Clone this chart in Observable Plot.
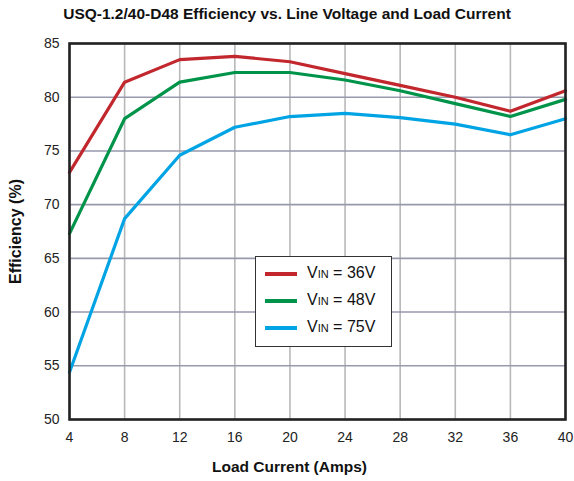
<!DOCTYPE html>
<html><head><meta charset="utf-8">
<script src="https://cdn.jsdelivr.net/npm/d3@7"></script>
<script src="https://cdn.jsdelivr.net/npm/@observablehq/plot@0.6"></script>
<style>
body{margin:0;background:#fff;font-family:"Liberation Sans",Arial,sans-serif;}
#wrap{position:relative;width:574px;height:481px;}
#title{height:28px;line-height:28px;text-align:center;font-weight:bold;font-size:15.5px;color:#111;}
#legend{position:absolute;left:255px;top:256px;width:137px;height:91px;border:1.3px solid #333;background:#fff;box-sizing:border-box;}
.li{position:absolute;left:9px;height:20px;font-size:16px;color:#111;}
.li span.sw{position:absolute;left:0;top:8px;width:32px;height:4px;}
.li span.tx{position:absolute;left:42px;top:0;white-space:nowrap;}
.li small{font-size:11px;}
</style></head><body>
<div id="wrap"><div id="title">USQ-1.2/40-D48 Efficiency vs. Line Voltage and Load Current</div><div id="chart"></div><div id="legend"></div></div>
<script>
const current = [4, 8, 12, 16, 20, 24, 28, 32, 36, 40];
const vin36 = [73.0, 81.4, 83.5, 83.8, 83.3, 82.2, 81.1, 80.0, 78.7, 80.6];
const vin48 = [67.3, 78.0, 81.4, 82.3, 82.3, 81.6, 80.6, 79.4, 78.2, 79.8];
const vin75 = [54.4, 68.7, 74.6, 77.2, 78.2, 78.5, 78.1, 77.5, 76.5, 78.0];
const seriesNames = ["36V", "48V", "75V"];
const seriesColors = ["#c1272d", "#00944a", "#00a4e4"];
const xTicks = [4, 8, 12, 16, 20, 24, 28, 32, 36, 40];
const yTicks = [50, 55, 60, 65, 70, 75, 80, 85];

const allSeries = [vin36, vin48, vin75];
const data = [];
allSeries.forEach((vals, si) => vals.forEach((v, i) => data.push({x: current[i], y: v, s: seriesNames[si]})));

const chart = Plot.plot({
  width: 574, height: 453,
  marginTop: 15, marginBottom: 62, marginLeft: 69, marginRight: 9,
  style: {fontFamily: "'Liberation Sans', Arial, sans-serif", fontSize: "14px", color: "#222", background: "#fff"},
  x: {domain: [4, 40], ticks: xTicks, tickSize: 0, tickPadding: 13, label: "Load Current (Amps)", labelAnchor: "center", labelArrow: "none", labelOffset: 52},
  y: {domain: [50, 85], ticks: yTicks, tickSize: 0, tickPadding: 10, label: "Efficiency (%)", labelAnchor: "center", labelArrow: "none", labelOffset: 60},
  color: {domain: seriesNames, range: seriesColors},
  marks: [
    Plot.ruleX(xTicks, {stroke: "#b8b8b8", strokeWidth: 1.6}),
    Plot.ruleY(yTicks, {stroke: "#9799ad", strokeWidth: 1.6}),
    Plot.line(data, {x: "x", y: "y", z: "s", stroke: "s", strokeWidth: 3.2, strokeLinejoin: "miter"}),
    Plot.frame({stroke: "#222", strokeWidth: 2.6})
  ]
});
document.getElementById("chart").appendChild(chart);
d3.select(chart).selectAll("[aria-label='x-axis label'] text")
  .style("font-weight", "bold").style("font-size", "15.5px").style("fill", "#111").attr("dx", -28);
d3.select(chart).selectAll("[aria-label='y-axis label'] text")
  .style("font-weight", "bold").style("font-size", "16px").style("fill", "#111");
d3.select(chart).selectAll("[aria-label='x-axis tick label'] text, [aria-label='y-axis tick label'] text")
  .style("font-size", "14px").style("fill", "#222");

const leg = document.getElementById("legend");
seriesNames.forEach((n, i) => {
  const d = document.createElement("div");
  d.className = "li";
  d.style.top = (7 + i * 27) + "px";
  d.innerHTML = `<span class="sw" style="background:${seriesColors[i]}"></span><span class="tx">V<small>IN</small> = ${n}</span>`;
  leg.appendChild(d);
});
</script></body></html>
